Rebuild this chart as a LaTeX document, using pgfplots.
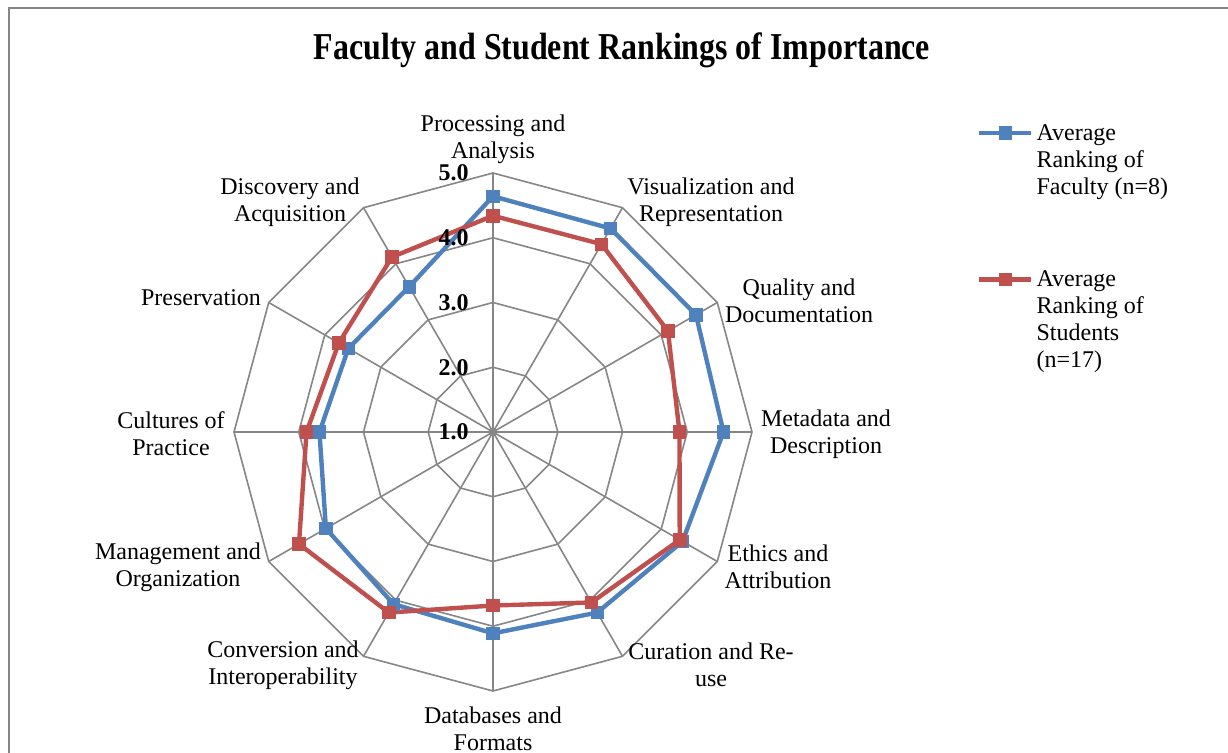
\documentclass[border=0pt]{standalone}
\usepackage{fontspec}
\setmainfont{Liberation Serif}
\newfontfamily\titlefont[FakeStretch=0.84]{Liberation Serif}
\usepackage{pgfplots}
\usepackage{pgfplotstable}
\pgfplotsset{compat=1.18}
\usepgfplotslibrary{polar}
\definecolor{fac}{HTML}{4F81BD}
\definecolor{stu}{HTML}{C0504D}
\definecolor{gridgray}{HTML}{868686}

% angle: Processing 90, Visualization 60, Quality 30, Metadata 0, Ethics 330,
% Curation 300, Databases 270, Conversion 240, Management 210, Cultures 180,
% Preservation 150, Discovery 120 (closing back to 90)
\pgfplotstableread{
angle faculty students
90  4.64 4.34
60  4.63 4.35
30  4.62 4.12
0   4.56 3.88
330 4.38 4.33
300 4.22 4.04
270 4.11 3.68
240 4.07 4.22
210 3.98 4.46
180 3.68 3.88
150 3.58 3.75
120 3.59 4.12
90  4.64 4.34
}\ranks

\newcommand{\bodyfont}{\fontsize{12}{13.5}\selectfont}

\begin{document}
\begin{tikzpicture}
\begin{scope}[x=0.5pt,y=-0.5pt]
\path[use as bounding box] (0,0) rectangle (1228,753);
\draw[gridgray, line width=1pt] (8.5,770) -- (8.5,8.5) -- (1240,8.5);
\node[font=\titlefont\bfseries\fontsize{19}{22}\selectfont] at (622,50) {Faculty and Student Rankings of Importance};
\end{scope}
\begin{polaraxis}[
  at={(246.5pt,-216pt)}, anchor=center,
  scale only axis, width=259pt, height=259pt,
  xmin=0, xmax=360, ymin=0, ymax=4,
  hide axis, clip=false,
  legend cell align=left,
  legend image code/.code={\draw[mark repeat=2,mark phase=2] plot coordinates {(0pt,0pt)(13pt,0pt)(26pt,0pt)};},
  legend style={at={(1.434,1.1)}, anchor=north west, draw=none, fill=none,
    inner sep=0pt, row sep=33.5pt,
    font=\bodyfont, nodes={align=left, inner sep=1.5pt}},
]
\addplot[gridgray, line width=0.8pt, line join=round, forget plot] coordinates {(90,1)(60,1)(30,1)(0,1)(330,1)(300,1)(270,1)(240,1)(210,1)(180,1)(150,1)(120,1)(90,1)};
\addplot[gridgray, line width=0.8pt, line join=round, forget plot] coordinates {(90,2)(60,2)(30,2)(0,2)(330,2)(300,2)(270,2)(240,2)(210,2)(180,2)(150,2)(120,2)(90,2)};
\addplot[gridgray, line width=0.8pt, line join=round, forget plot] coordinates {(90,3)(60,3)(30,3)(0,3)(330,3)(300,3)(270,3)(240,3)(210,3)(180,3)(150,3)(120,3)(90,3)};
\addplot[gridgray, line width=0.8pt, line join=round, forget plot] coordinates {(90,4)(60,4)(30,4)(0,4)(330,4)(300,4)(270,4)(240,4)(210,4)(180,4)(150,4)(120,4)(90,4)};
\addplot[gridgray, line width=0.8pt, line join=round, forget plot] coordinates {(0,4)(0,0)(30,4)(0,0)(60,4)(0,0)(90,4)(0,0)(120,4)(0,0)(150,4)(0,0)(180,4)(0,0)(210,4)(0,0)(240,4)(0,0)(270,4)(0,0)(300,4)(0,0)(330,4)};
\addplot[fac, line width=2.2pt, mark=square*, mark size=3.1pt, mark options={solid, line width=0.4pt}, legend image post style={yshift=14pt}] table[x=angle, y expr=\thisrow{faculty}-1] {\ranks};
\addlegendentry{Average\\Ranking of\\Faculty (n=8)}
\addplot[stu, line width=2.2pt, mark=square*, mark size=3.1pt, mark options={solid, line width=0.4pt}, legend image post style={yshift=20.5pt}] table[x=angle, y expr=\thisrow{students}-1] {\ranks};
\addlegendentry{Average\\Ranking of\\Students\\(n=17)}
\node[anchor=east, inner sep=0pt, font=\bfseries\bodyfont, xshift=-12pt] at (axis cs:90,4) {5.0};
\node[anchor=east, inner sep=0pt, font=\bfseries\bodyfont, xshift=-12pt] at (axis cs:90,3) {4.0};
\node[anchor=east, inner sep=0pt, font=\bfseries\bodyfont, xshift=-12pt] at (axis cs:90,2) {3.0};
\node[anchor=east, inner sep=0pt, font=\bfseries\bodyfont, xshift=-12pt] at (axis cs:90,1) {2.0};
\node[anchor=east, inner sep=0pt, font=\bfseries\bodyfont, xshift=-12pt] at (axis cs:90,0) {1.0};
\end{polaraxis}
\begin{scope}[x=0.5pt,y=-0.5pt,every node/.style={align=center, font=\bodyfont, inner sep=0pt}]
\node at (493,139) {Processing and\\Analysis};
\node at (711,202) {Visualization and\\Representation};
\node at (799,301) {Quality and\\Documentation};
\node at (826,434) {Metadata and\\Description};
\node at (778,567) {Ethics and\\Attribution};
\node at (711,665) {Curation and Re-\\use};
\node at (493,729) {Databases and\\Formats};
\node at (283,665) {Conversion and\\Interoperability};
\node at (178,567) {Management and\\Organization};
\node at (171,434) {Cultures of\\Practice};
\node at (201,298) {Preservation};
\node at (290,202) {Discovery and\\Acquisition};
\end{scope}
\end{tikzpicture}
\end{document}
